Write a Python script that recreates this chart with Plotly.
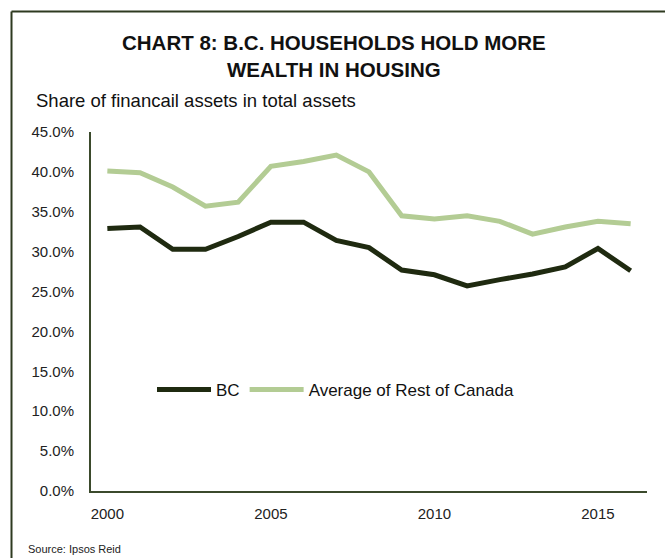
import plotly.graph_objects as go

years = list(range(2000, 2017))
bc = [32.9, 33.1, 30.3, 30.3, 31.9, 33.7, 33.7, 31.4, 30.5, 27.7, 27.1, 25.7, 26.5, 27.2, 28.1, 30.4, 27.6]
rest = [40.1, 39.9, 38.1, 35.7, 36.2, 40.7, 41.3, 42.1, 40.0, 34.5, 34.1, 34.5, 33.8, 32.2, 33.1, 33.8, 33.5]
y_ticks = [0, 5, 10, 15, 20, 25, 30, 35, 40, 45]
y_labels = [f"{v:.1f}%" for v in y_ticks]
x_ticks = [2000, 2005, 2010, 2015]

W, H = 665, 558
L, R, T, B = 91, 18, 132, 67
pw, ph = W - L - R, H - T - B

def px(x):
    return (x - L) / pw

def py(y):
    return (H - B - y) / ph

FONT = "Liberation Sans, Arial, sans-serif"
frame = "#2e3a20"

fig = go.Figure()
fig.add_trace(go.Scatter(x=years, y=bc, name="BC", mode="lines",
                         line=dict(color="#1f2a10", width=5)))
fig.add_trace(go.Scatter(x=years, y=rest, name="Average of Rest of Canada", mode="lines",
                         line=dict(color="#b3cc94", width=5)))

fig.update_layout(
    width=W, height=H,
    margin=dict(l=L, r=R, t=T, b=B),
    paper_bgcolor="white", plot_bgcolor="white",
    font=dict(family=FONT, color="#222222", size=15),
    showlegend=True,
    legend=dict(orientation="h", x=px(152), y=py(390), xanchor="left", yanchor="middle",
                font=dict(size=17, color="#111111"), bgcolor="rgba(0,0,0,0)",
                itemwidth=54, tracegroupgap=0),
    xaxis=dict(range=[1999.5, 2016.5], tickvals=x_ticks, showgrid=False, zeroline=False,
               showline=True, linecolor="#3b4a2c", linewidth=2, ticks="",
               ticklabelstandoff=8, tickfont=dict(size=15, color="#222222")),
    yaxis=dict(range=[0, 45], tickvals=y_ticks, ticktext=y_labels,
               showgrid=False, zeroline=False, showline=True, linecolor="#3b4a2c",
               linewidth=2, ticks="", ticklabelstandoff=12,
               tickfont=dict(size=15, color="#222222")),
    shapes=[
        dict(type="line", xref="paper", yref="paper", x0=px(11.5), x1=px(11.5),
             y0=py(11.5), y1=py(H + 5), line=dict(color=frame, width=2)),
        dict(type="line", xref="paper", yref="paper", x0=px(11.5), x1=px(W + 5),
             y0=py(11.5), y1=py(11.5), line=dict(color=frame, width=2)),
    ],
    annotations=[
        dict(text="<b>CHART 8: B.C. HOUSEHOLDS HOLD MORE<br>WEALTH IN HOUSING</b>",
             xref="paper", yref="paper", x=px(334), y=py(56), xanchor="center", yanchor="middle",
             showarrow=False, font=dict(size=20.5, color="#111111", family=FONT)),
        dict(text="Share of financail assets in total assets",
             xref="paper", yref="paper", x=px(34), y=py(101), xanchor="left", yanchor="middle",
             showarrow=False, font=dict(size=18.5, color="#111111", family=FONT)),
        dict(text="Source: Ipsos Reid",
             xref="paper", yref="paper", x=px(26), y=py(549), xanchor="left", yanchor="middle",
             showarrow=False, font=dict(size=11, color="#222222", family=FONT)),
    ],
)

fig.write_html("out.html")
